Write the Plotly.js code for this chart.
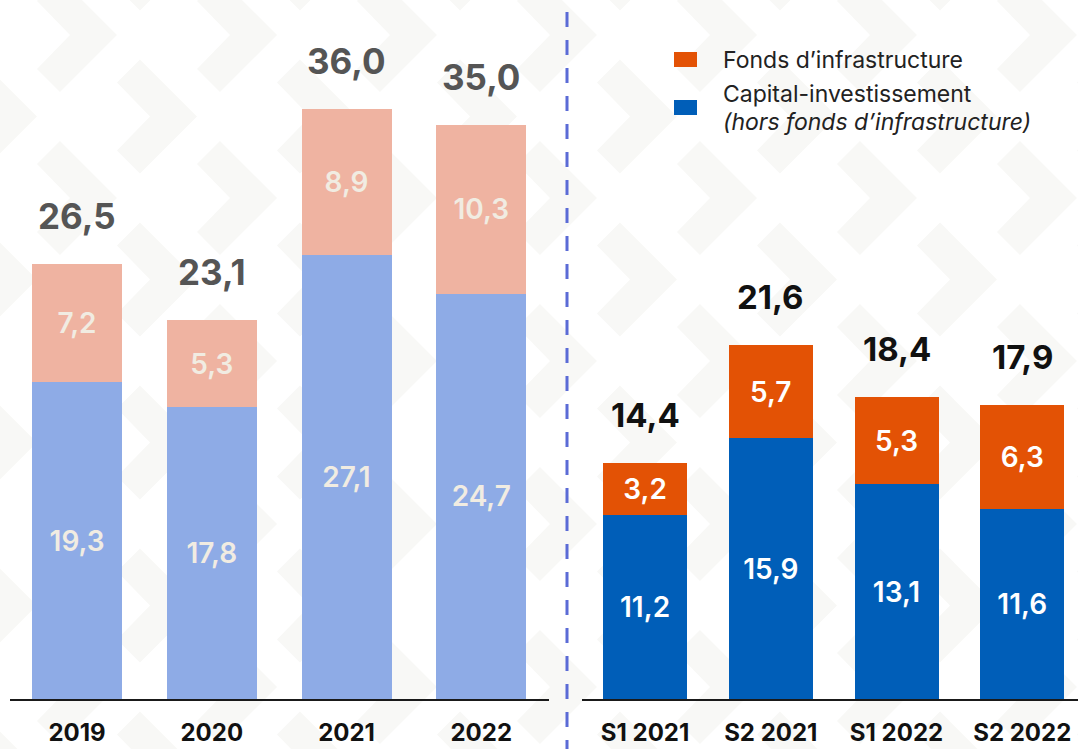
<!DOCTYPE html>
<html><head><meta charset="utf-8">
<script src="https://cdn.plot.ly/plotly-3.0.1.min.js"></script>
<style>html,body{margin:0;padding:0;background:#fff}#chart{width:1078px;height:749px}</style>
</head><body><div id="chart"></div>
<script>
// ---- data ----
const yearCats = ['2019', '2020', '2021', '2022'];
const yearCapital = [19.3, 17.8, 27.1, 24.7];
const yearInfra = [7.2, 5.3, 8.9, 10.3];
const yearTotals = [26.5, 23.1, 36.0, 35.0];

const halfCats = ['S1 2021', 'S2 2021', 'S1 2022', 'S2 2022'];
const halfCapital = [11.2, 15.9, 13.1, 11.6];
const halfInfra = [3.2, 5.7, 5.3, 6.3];
const halfTotals = [14.4, 21.6, 18.4, 17.9];

const infraName = 'Fonds d’infrastructure';
const capitalName = 'Capital-investissement';
const capitalNote = '(hors fonds d’infrastructure)';

// ---- helpers ----
const W = 1078, H = 749, MB = 50, PH = H - MB;
const fmt = v => v.toFixed(1).replace('.', ',');
const X = px => px / W;
const Y = py => (PH - py) / PH;
const FONT = 'Inter, "Noto Sans", sans-serif';

const insideFont = (c) => ({family: FONT, size: 28, color: c, weight: 600});

function barTrace(xs, ys, color, txtColor, axis, name) {
  return {
    type: 'bar', x: xs, y: ys, xaxis: axis, yaxis: 'y', name: name,
    marker: {color: color, line: {width: 0}},
    text: ys.map(fmt), textposition: 'inside', insidetextanchor: 'middle',
    textangle: 0, constraintext: 'none',
    textfont: insideFont(txtColor), hoverinfo: 'skip', showlegend: false
  };
}

const traces = [
  barTrace(yearCats, yearCapital, '#8eabe6', '#f1ece2', 'x', capitalName),
  barTrace(yearCats, yearInfra, '#efb3a1', '#f1ece2', 'x', infraName),
  barTrace(halfCats, halfCapital, '#005eb8', '#ffffff', 'x2', capitalName),
  barTrace(halfCats, halfInfra, '#e35205', '#ffffff', 'x2', infraName)
];

// total labels (category index positions)
const annotations = [];
yearCats.forEach((c, i) => annotations.push({
  xref: 'x', yref: 'y', x: i, y: yearTotals[i], text: fmt(yearTotals[i]),
  showarrow: false, yanchor: 'middle', yshift: 48,
  font: {family: FONT, size: 35, color: '#555555', weight: 700}
}));
halfCats.forEach((c, i) => annotations.push({
  xref: 'x2', yref: 'y', x: i, y: halfTotals[i], text: fmt(halfTotals[i]),
  showarrow: false, yanchor: 'middle', yshift: 48,
  font: {family: FONT, size: 33, color: '#111111', weight: 700}
}));
// legend text
const legFont = {family: FONT, size: 23, color: '#222222'};
annotations.push({
  xref: 'paper', yref: 'paper', x: X(721), y: Y(60), xanchor: 'left', yanchor: 'middle',
  text: infraName, showarrow: false, align: 'left', font: legFont
});
annotations.push({
  xref: 'paper', yref: 'paper', x: X(721), y: Y(94), xanchor: 'left', yanchor: 'middle',
  text: capitalName, showarrow: false, align: 'left', font: legFont
});
annotations.push({
  xref: 'paper', yref: 'paper', x: X(721), y: Y(122), xanchor: 'left', yanchor: 'middle',
  text: '<i>' + capitalNote + '</i>', showarrow: false, align: 'left', font: legFont
});

// background chevron pattern (decoration)
let chev = '';
for (let m = -1; m <= 10; m++) {
  for (let k = -1; k <= 15; k++) {
    if ((((k + m) % 2) + 2) % 2 !== 1) continue;
    const tx = 37 + 80 * k, ty = 35 + 81.5 * m;
    const pts = [[tx - 57, ty - 57], [tx, ty], [tx - 57, ty + 57], [tx - 80, ty + 34], [tx - 47, ty], [tx - 80, ty - 34]];
    chev += 'M' + pts.map(p => X(p[0]).toFixed(5) + ',' + Y(p[1]).toFixed(5)).join('L') + 'Z ';
  }
}

const shapes = [
  {type: 'path', xref: 'paper', yref: 'paper', path: chev, fillcolor: '#f8f8f6', line: {width: 0}, layer: 'below'},
  {type: 'line', xref: 'paper', yref: 'paper', x0: X(567), x1: X(567), y0: Y(12), y1: Y(H),
   line: {color: '#5b6bd6', width: 3, dash: '15px,13px'}},
  {type: 'rect', xref: 'paper', yref: 'paper', x0: X(674), x1: X(697), y0: Y(52), y1: Y(67),
   fillcolor: '#e35205', line: {width: 0}},
  {type: 'rect', xref: 'paper', yref: 'paper', x0: X(674), x1: X(697), y0: Y(100), y1: Y(115),
   fillcolor: '#005eb8', line: {width: 0}}
];

const axisCommon = {
  type: 'category', showgrid: false, zeroline: false, showline: true,
  linecolor: '#1a1a1a', linewidth: 2, ticks: '', ticklabelstandoff: 11,
  tickfont: {family: FONT, size: 24, color: '#111111', weight: 700}, fixedrange: true
};

const layout = {
  width: W, height: H,
  margin: {l: 0, r: 0, t: 0, b: MB, pad: 0},
  paper_bgcolor: '#ffffff', plot_bgcolor: 'rgba(0,0,0,0)',
  barmode: 'stack', bargap: 0.332, showlegend: false, hovermode: false,
  xaxis: Object.assign({}, axisCommon, {domain: [9.7 / W, 548.6 / W], range: [-0.5, 3.5], anchor: 'y'}),
  xaxis2: Object.assign({}, axisCommon, {domain: [582.2 / W, 1], range: [-0.5, 3.4435], anchor: 'y'}),
  yaxis: {range: [0, PH / 16.4], visible: false, showgrid: false, zeroline: false, fixedrange: true},
  annotations: annotations, shapes: shapes
};

Plotly.newPlot('chart', traces, layout, {displayModeBar: false, staticPlot: true});
</script></body></html>
